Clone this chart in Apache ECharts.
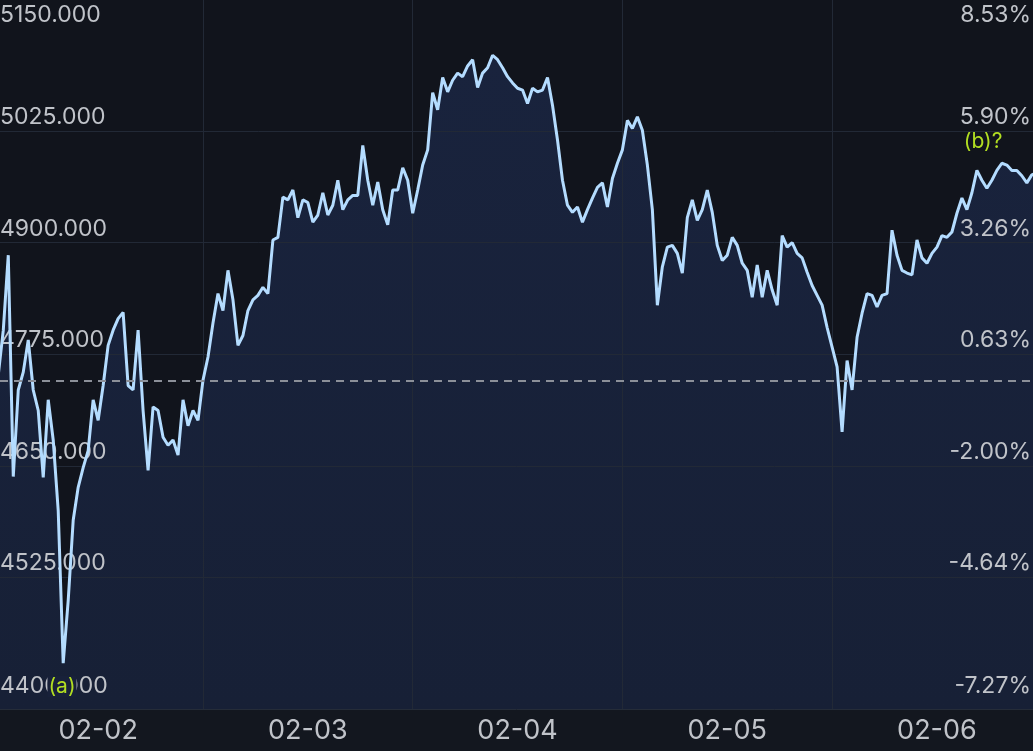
<!DOCTYPE html>
<html>
<head>
<meta charset="utf-8">
<script src="https://cdn.jsdelivr.net/npm/echarts@6/dist/echarts.min.js"></script>
<style>
  html, body { margin: 0; padding: 0; background: #12151e; }
  #chart { width: 1033px; height: 751px; }
</style>
</head>
<body>
<div id="chart"></div>
<script>
// ---- data ----
const dateLabels = ['02-02', '02-03', '02-04', '02-05', '02-06'];
const slotsPerDay = 42;
const prevClose = 4745.08;

const d0202 = [4748, 4752, 4802, 4886, 4638, 4735, 4755, 4791, 4735, 4712, 4637, 4724, 4679, 4600, 4429, 4499, 4589, 4626, 4648, 4667, 4724, 4701, 4740, 4785, 4802, 4815, 4822, 4740, 4735, 4802, 4712, 4645, 4716, 4712, 4682, 4673, 4679, 4662, 4724, 4695, 4712, 4701];
const d0203 = [4746, 4772, 4810, 4843, 4824, 4869, 4836, 4785, 4796, 4824, 4836, 4841, 4850, 4843, 4903, 4906, 4951, 4948, 4959, 4928, 4948, 4945, 4923, 4931, 4956, 4931, 4942, 4970, 4937, 4948, 4953, 4953, 5009, 4970, 4942, 4968, 4937, 4920, 4959, 4959, 4984, 4970];
const d0204 = [4933, 4959, 4987, 5004, 5068, 5049, 5085, 5069, 5082, 5090, 5086, 5098, 5105, 5074, 5090, 5096, 5110, 5105, 5096, 5086, 5079, 5073, 5071, 5056, 5073, 5069, 5071, 5085, 5054, 5015, 4970, 4942, 4934, 4940, 4923, 4937, 4950, 4962, 4967, 4940, 4972, 4989];
const d0205 = [5004, 5037, 5028, 5041, 5026, 4987, 4937, 4830, 4873, 4895, 4897, 4888, 4866, 4928, 4948, 4925, 4937, 4959, 4934, 4897, 4880, 4886, 4906, 4897, 4877, 4869, 4839, 4875, 4839, 4869, 4847, 4830, 4908, 4895, 4900, 4888, 4883, 4867, 4852, 4841, 4830, 4805];
const d0206 = [4783, 4761, 4688, 4768, 4735, 4794, 4821, 4843, 4841, 4828, 4841, 4843, 4914, 4886, 4869, 4866, 4864, 4903, 4883, 4877, 4888, 4895, 4908, 4906, 4912, 4933, 4950, 4937, 4956, 4981, 4970, 4961, 4970, 4981, 4989, 4987, 4981, 4981, 4975, 4967, 4976, 4978];

const priceTicks = [4400, 4525, 4650, 4775, 4900, 5025, 5150];
const pctLabels = ['-7.27%', '-4.64%', '-2.00%', '0.63%', '3.26%', '5.90%', '8.53%'];
const gridTicks = [4525, 4650, 4775, 4900, 5025];

const annotations = [
  { text: '(a)', t: 0.3276, v: 4402.8 },
  { text: '(b)?', t: 4.72, v: 5012.7 }
];

// ---- build series ----
const days = [d0202, d0203, d0204, d0205, d0206];
const seriesData = [];
days.forEach((vals, d) => {
  vals.forEach((v, i) => seriesData.push([d + i / slotsPerDay, v]));
});

const labelColor = '#c0c3c9';
const font = 'Inter, "Noto Sans", sans-serif';

function yLabelFmt(text, v) {
  if (v === 5150) return '{t|' + text + '}';
  if (v === 4400) return '{b|' + text + '}';
  return '{n|' + text + '}';
}
const yRich = {
  n: { lineHeight: 28, fontSize: 23, color: labelColor, fontFamily: font },
  t: { lineHeight: 9, fontSize: 23, color: labelColor, fontFamily: font },
  b: { lineHeight: 5, fontSize: 23, color: labelColor, fontFamily: font }
};
const annotationBg = ['#18213a', 'transparent'];

const chart = echarts.init(document.getElementById('chart'), null, { renderer: 'canvas' });
chart.setOption({
  backgroundColor: '#13171f',
  animation: false,
  grid: {
    left: 0, right: 0, top: 0, bottom: 42, z: 0,
    show: true, backgroundColor: '#11141c', borderWidth: 0,
    containLabel: false, outerBoundsMode: 'none'
  },
  xAxis: {
    type: 'value', z: 2,
    min: 0.03195,
    max: 4.958,
    axisLine: { show: true, lineStyle: { color: '#252c38', width: 1 } },
    axisTick: { show: false, customValues: [1, 2, 3, 4] },
    splitLine: { show: true, lineStyle: { color: '#222936', width: 1 } },
    axisLabel: {
      customValues: [0.5, 1.5, 2.5, 3.5, 4.5],
      formatter: (v) => dateLabels[Math.floor(v)],
      color: labelColor, fontSize: 27, fontFamily: font,
      lineHeight: 27, margin: 8
    }
  },
  yAxis: [
    {
      type: 'value', position: 'left', z: 2,
      min: 4377.6, max: 5171.9,
      axisLine: { show: false },
      axisTick: { show: false, customValues: gridTicks },
      splitLine: { show: true, lineStyle: { color: '#222936', width: 1 } },
      axisLabel: {
        inside: true, margin: 0,
        customValues: priceTicks,
        verticalAlign: 'bottom', align: 'left',
        formatter: (v) => yLabelFmt(v.toFixed(3), v),
        rich: yRich
      }
    },
    {
      type: 'value', position: 'right', z: 2,
      min: 4377.6, max: 5171.9,
      axisLine: { show: false },
      axisTick: { show: false },
      splitLine: { show: false },
      axisLabel: {
        inside: true, margin: 2,
        customValues: priceTicks,
        verticalAlign: 'bottom', align: 'right',
        formatter: (v) => yLabelFmt(pctLabels[priceTicks.indexOf(v)], v),
        rich: yRich
      }
    }
  ],
  series: [
    {
      name: 'area',
      type: 'line',
      z: 1,
      data: seriesData,
      showSymbol: false,
      symbol: 'none',
      silent: true,
      lineStyle: { width: 0, opacity: 0 },
      areaStyle: {
        origin: 'start',
        opacity: 1,
        color: new echarts.graphic.LinearGradient(0, 0, 0, 1, [
          { offset: 0, color: '#19233d' },
          { offset: 1, color: '#172036' }
        ])
      }
    },
    {
      name: 'price',
      type: 'line',
      z: 3,
      data: seriesData,
      showSymbol: false,
      symbol: 'none',
      smooth: false,
      lineStyle: { color: '#b4dcff', width: 3 },
      markLine: {
        silent: true,
        symbol: ['none', 'none'],
        label: { show: false },
        lineStyle: { color: '#8c9099', type: [8, 6], width: 2 },
        data: [{ yAxis: prevClose }]
      },
      markPoint: {
        silent: true,
        z: 10,
        symbol: 'circle',
        symbolSize: 0,
        label: {
          show: true, position: 'inside',
          color: '#b2de22', fontSize: 21, fontFamily: font,
          formatter: (p) => p.name
        },
        data: annotations.map((a, i) => ({
          name: a.text, coord: [a.t, a.v],
          label: { backgroundColor: annotationBg[i], padding: [0, 1] }
        }))
      }
    }
  ]
});
</script>
</body>
</html>
